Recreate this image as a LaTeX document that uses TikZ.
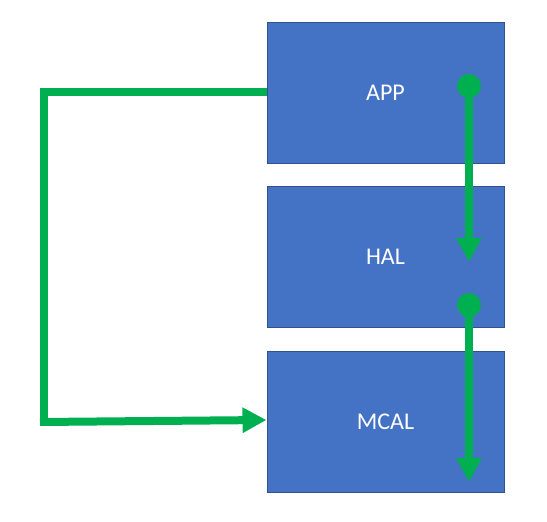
\documentclass[tikz,border=0pt]{standalone}
\usepackage{fontspec}
\setmainfont{Carlito}
\usetikzlibrary{arrows.meta}
\definecolor{boxblue}{HTML}{4472C4}
\definecolor{boxedge}{HTML}{2F528F}
\definecolor{arrgreen}{HTML}{00B050}
\begin{document}
\begin{tikzpicture}[x=1pt,y=-1pt,
  layer/.style={draw=boxedge, line width=1pt, fill=boxblue, minimum width=237pt, minimum height=141pt, inner sep=0pt, text=white, font=\fontsize{24}{28}\selectfont},
  flow/.style={draw=arrgreen, line width=8pt, -{Triangle[width=24pt,length=24pt]}},
  dot/.style={circle, fill=arrgreen, minimum size=24pt, inner sep=0pt}]
\useasboundingbox (0,0) rectangle (547,522);
\node[layer] (app) at (385.5,92.5) {APP};
\node[layer] (hal) at (385.5,257) {HAL};
\node[layer] (mcal) at (385.5,421.5) {MCAL};
\node[dot] (d1) at (469,86) {};
\node[dot] (d2) at (469,305) {};
\coordinate (t1) at (469,262);
\coordinate (t2) at (469,482);
\coordinate (c1) at (44,92);
\coordinate (c2) at (44,422);
\draw[flow] (d1.center) -- (t1);
\draw[flow] (d2.center) -- (t2);
\draw[draw=arrgreen, line width=8pt] (app.west |- c1) -- (40,92);
\draw[draw=arrgreen, line width=8pt] (c1) ++(0,-4) -- (44,426);
\draw[flow] (40,422) -- (mcal.west |- 0,420);
\end{tikzpicture}
\end{document}
